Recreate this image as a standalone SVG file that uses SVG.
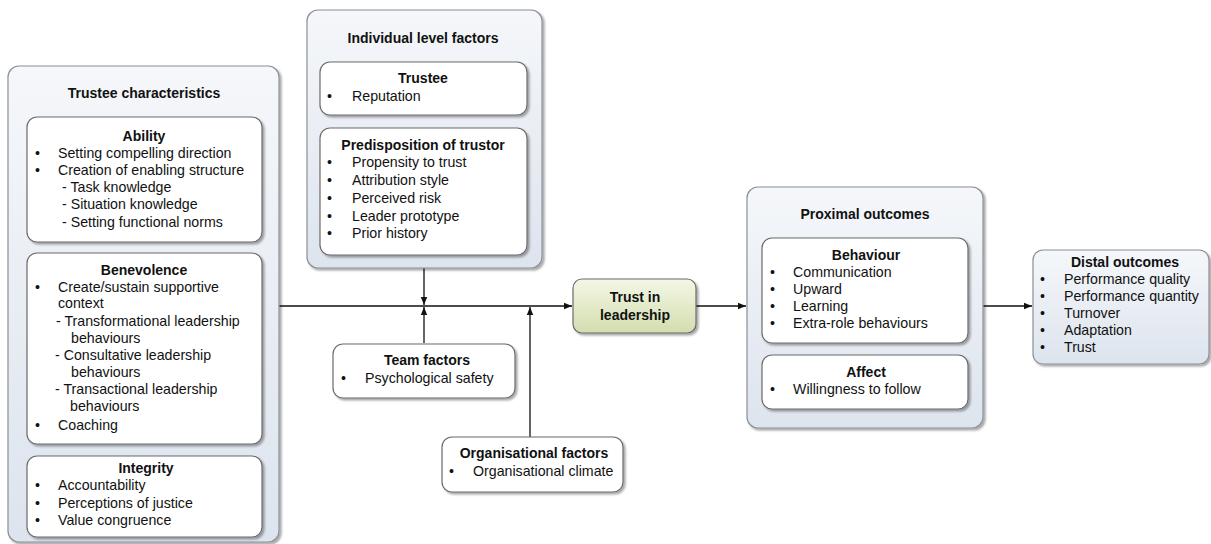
<svg xmlns="http://www.w3.org/2000/svg" width="1211" height="544" viewBox="0 0 1211 544">
  <defs>
    <linearGradient id="groupFill" x1="0" y1="0" x2="0" y2="1">
      <stop offset="0" stop-color="#f5f7fa"/>
      <stop offset="1" stop-color="#dde4ee"/>
    </linearGradient>
    <linearGradient id="trustFill" x1="0" y1="0" x2="0" y2="1">
      <stop offset="0" stop-color="#f4f7e6"/>
      <stop offset="1" stop-color="#d3ddae"/>
    </linearGradient>
    <filter id="shadow" x="-10%" y="-10%" width="120%" height="120%">
      <feDropShadow dx="2" dy="2" stdDeviation="1.2" flood-color="#000" flood-opacity="0.35"/>
    </filter>
    <marker id="arrow" viewBox="0 0 10 10" refX="10" refY="5" markerWidth="8" markerHeight="8" orient="auto" markerUnits="userSpaceOnUse">
      <path d="M0,1 L10,5 L0,9 Z" fill="#111"/>
    </marker>
  </defs>
  <style>
    text { font-family: "Liberation Sans", Arial, sans-serif; fill: #111; }
    .t { font-size: 14px; font-weight: bold; text-anchor: middle; }
    .i { font-size: 14.2px; }
    .group { fill: url(#groupFill); stroke: #8a9099; stroke-width: 1.2; filter: url(#shadow); }
    .inner { fill: #ffffff; stroke: #6b6b6b; stroke-width: 1.2; filter: url(#shadow); }
    .trust { fill: url(#trustFill); stroke: #6b6b6b; stroke-width: 1.2; filter: url(#shadow); }
    .link { stroke: #111; stroke-width: 1.3; fill: none; marker-end: url(#arrow); }
  </style>

  <rect width="1211" height="544" fill="#ffffff"/>

  <!-- connectors -->
  <g id="connectors">
    <line class="link" x1="279" y1="306" x2="572" y2="306"/>
    <line class="link" x1="424" y1="268" x2="424" y2="305"/>
    <line class="link" x1="424" y1="343" x2="424" y2="307"/>
    <line class="link" x1="530" y1="437" x2="530" y2="307"/>
    <line class="link" x1="696" y1="306" x2="746" y2="306"/>
    <line class="link" x1="983" y1="306" x2="1032" y2="306"/>
  </g>

  <!-- Trustee characteristics -->
  <g id="trustee-characteristics">
    <rect class="group" x="8" y="66" width="271" height="476" rx="11"/>
    <text class="t" x="144" y="98">Trustee characteristics</text>
  </g>
  <g id="ability">
    <rect class="inner" x="27" y="117" width="235" height="125" rx="10"/>
    <text class="t" x="144" y="141">Ability</text>
    <text class="i" x="35" y="158">•</text><text class="i" x="58" y="158">Setting compelling direction</text>
    <text class="i" x="35" y="175">•</text><text class="i" x="58" y="175">Creation of enabling structure</text>
    <text class="i" x="62" y="192">- Task knowledge</text>
    <text class="i" x="62" y="209">- Situation knowledge</text>
    <text class="i" x="62" y="227">- Setting functional norms</text>
  </g>
  <g id="benevolence">
    <rect class="inner" x="27" y="253" width="235" height="191" rx="10"/>
    <text class="t" x="144" y="275">Benevolence</text>
    <text class="i" x="35" y="292">•</text><text class="i" x="58" y="292">Create/sustain supportive</text>
    <text class="i" x="58" y="308">context</text>
    <text class="i" x="56" y="326">- Transformational leadership</text>
    <text class="i" x="71" y="343">behaviours</text>
    <text class="i" x="55" y="360">- Consultative leadership</text>
    <text class="i" x="71" y="377">behaviours</text>
    <text class="i" x="55" y="394">- Transactional leadership</text>
    <text class="i" x="70" y="411">behaviours</text>
    <text class="i" x="35" y="430">•</text><text class="i" x="58" y="430">Coaching</text>
  </g>
  <g id="integrity">
    <rect class="inner" x="27" y="456" width="235" height="81" rx="10"/>
    <text class="t" x="146" y="473">Integrity</text>
    <text class="i" x="35" y="490">•</text><text class="i" x="58" y="490">Accountability</text>
    <text class="i" x="35" y="508">•</text><text class="i" x="58" y="508">Perceptions of justice</text>
    <text class="i" x="35" y="525">•</text><text class="i" x="58" y="525">Value congruence</text>
  </g>

  <!-- Individual level factors -->
  <g id="individual-level-factors">
    <rect class="group" x="307" y="10" width="235" height="258" rx="11"/>
    <text class="t" x="423" y="43">Individual level factors</text>
  </g>
  <g id="trustee">
    <rect class="inner" x="320" y="62" width="207" height="53" rx="10"/>
    <text class="t" x="423" y="83">Trustee</text>
    <text class="i" x="327" y="101">•</text><text class="i" x="352" y="101">Reputation</text>
  </g>
  <g id="predisposition-of-trustor">
    <rect class="inner" x="320" y="128" width="207" height="127" rx="10"/>
    <text class="t" x="423" y="150">Predisposition of trustor</text>
    <text class="i" x="327" y="167">•</text><text class="i" x="352" y="167">Propensity to trust</text>
    <text class="i" x="327" y="185">•</text><text class="i" x="352" y="185">Attribution style</text>
    <text class="i" x="327" y="203">•</text><text class="i" x="352" y="203">Perceived risk</text>
    <text class="i" x="327" y="221">•</text><text class="i" x="352" y="221">Leader prototype</text>
    <text class="i" x="327" y="238">•</text><text class="i" x="352" y="238">Prior history</text>
  </g>

  <!-- Team factors -->
  <g id="team-factors">
    <rect class="inner" x="333" y="344" width="182" height="54" rx="10"/>
    <text class="t" x="427" y="365">Team factors</text>
    <text class="i" x="341" y="383">•</text><text class="i" x="365" y="383">Psychological safety</text>
  </g>

  <!-- Organisational factors -->
  <g id="organisational-factors">
    <rect class="inner" x="442" y="437" width="181" height="55" rx="10"/>
    <text class="t" x="534" y="458">Organisational factors</text>
    <text class="i" x="449" y="476">•</text><text class="i" x="473" y="476">Organisational climate</text>
  </g>

  <!-- Trust in leadership -->
  <g id="trust-in-leadership">
    <rect class="trust" x="573" y="279" width="123" height="54" rx="9"/>
    <text class="t" x="635" y="302">Trust in</text>
    <text class="t" x="635" y="320">leadership</text>
  </g>

  <!-- Proximal outcomes -->
  <g id="proximal-outcomes">
    <rect class="group" x="747" y="187" width="236" height="241" rx="11"/>
    <text class="t" x="865" y="219">Proximal outcomes</text>
  </g>
  <g id="behaviour">
    <rect class="inner" x="762" y="238" width="206" height="105" rx="10"/>
    <text class="t" x="866" y="260">Behaviour</text>
    <text class="i" x="770" y="277">•</text><text class="i" x="793" y="277">Communication</text>
    <text class="i" x="770" y="294">•</text><text class="i" x="793" y="294">Upward</text>
    <text class="i" x="770" y="311">•</text><text class="i" x="793" y="311">Learning</text>
    <text class="i" x="770" y="328">•</text><text class="i" x="793" y="328">Extra-role behaviours</text>
  </g>
  <g id="affect">
    <rect class="inner" x="762" y="355" width="206" height="54" rx="10"/>
    <text class="t" x="866" y="377">Affect</text>
    <text class="i" x="770" y="394">•</text><text class="i" x="793" y="394">Willingness to follow</text>
  </g>

  <!-- Distal outcomes -->
  <g id="distal-outcomes">
    <rect class="group" x="1033" y="250" width="176" height="114" rx="10"/>
    <text class="t" x="1125" y="267">Distal outcomes</text>
    <text class="i" x="1040" y="284">•</text><text class="i" x="1064" y="284">Performance quality</text>
    <text class="i" x="1040" y="301">•</text><text class="i" x="1064" y="301">Performance quantity</text>
    <text class="i" x="1040" y="318">•</text><text class="i" x="1064" y="318">Turnover</text>
    <text class="i" x="1040" y="335">•</text><text class="i" x="1064" y="335">Adaptation</text>
    <text class="i" x="1040" y="352">•</text><text class="i" x="1064" y="352">Trust</text>
  </g>
</svg>
